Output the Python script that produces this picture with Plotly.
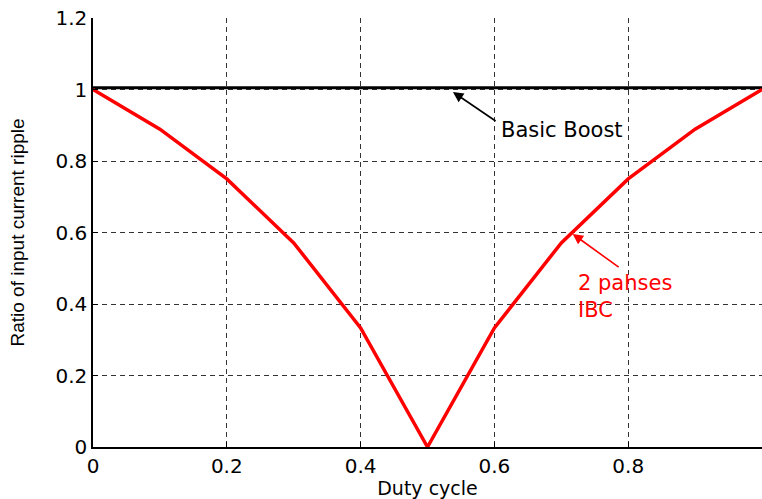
import plotly.graph_objects as go

duty_cycle = [0.0, 0.1, 0.2, 0.3, 0.4, 0.5, 0.6, 0.7, 0.8, 0.9, 1.0]
ibc_ratio = [1.0, 0.889, 0.75, 0.571, 0.333, 0.0, 0.333, 0.571, 0.75, 0.889, 1.0]
boost_duty = [0.0, 1.0]
boost_ratio = [1.005, 1.005]

x_ticks = [0, 0.2, 0.4, 0.6, 0.8, 1]
x_tick_labels = ["0", "0.2", "0.4", "0.6", "0.8", "1"]
y_ticks = [0, 0.2, 0.4, 0.6, 0.8, 1, 1.2]
y_tick_labels = ["0", "0.2", "0.4", "0.6", "0.8", "1", "1.2"]

tick_font = dict(family="DejaVu Sans", size=20, color="black")

fig = go.Figure()
fig.add_trace(go.Scatter(x=boost_duty, y=boost_ratio, mode="lines",
                         line=dict(color="black", width=3), showlegend=False))
fig.add_trace(go.Scatter(x=duty_cycle, y=ibc_ratio, mode="lines",
                         line=dict(color="#ff0000", width=3.5), showlegend=False))

grid = dict(showgrid=True, gridcolor="#333333", gridwidth=1, griddash="5px,4px",
            zeroline=False, showline=True, linecolor="black", linewidth=1.5,
            ticks="inside", ticklen=5, tickcolor="black", tickfont=tick_font,
            automargin=False)

fig.update_xaxes(range=[0, 1], tickvals=x_ticks, ticktext=x_tick_labels,
                 title=dict(text="Duty cycle", font=dict(family="DejaVu Sans", size=19, color="black"),
                            standoff=8),
                 **grid)
fig.update_yaxes(range=[0, 1.2], tickvals=y_ticks, ticktext=y_tick_labels,
                 title=dict(text="Ratio of input current ripple",
                            font=dict(family="Liberation Sans", size=19, color="black"),
                            standoff=26),
                 **grid)

# Basic Boost annotation
fig.add_annotation(x=0.538, y=0.993, ax=0.604, ay=0.909, xref="x", yref="y",
                   axref="x", ayref="y", text="", showarrow=True,
                   arrowhead=2, arrowsize=1.3, arrowwidth=1.6, arrowcolor="black")
fig.add_annotation(x=0.607, y=0.887, xref="x", yref="y", text="Basic Boost",
                   showarrow=False, xanchor="left", yanchor="middle",
                   font=dict(family="DejaVu Sans", size=21, color="black"))

# 2 phases IBC annotation
fig.add_annotation(x=0.717, y=0.596, ax=0.788, ay=0.50, xref="x", yref="y",
                   axref="x", ayref="y", text="", showarrow=True,
                   arrowhead=2, arrowsize=1.3, arrowwidth=1.6, arrowcolor="#ff0000")
fig.add_annotation(x=0.722, y=0.42, xref="x", yref="y", text="2 pahses<br>IBC",
                   showarrow=False, xanchor="left", yanchor="middle", align="left",
                   font=dict(family="DejaVu Sans", size=21, color="#ff0000"))

fig.update_layout(width=762, height=499, margin=dict(l=93, r=0, t=18, b=52),
                  paper_bgcolor="white", plot_bgcolor="white", showlegend=False)

fig.write_html("out.html", config={"displayModeBar": False},
               post_script="document.body.style.margin='0';document.body.style.overflow='hidden';")
